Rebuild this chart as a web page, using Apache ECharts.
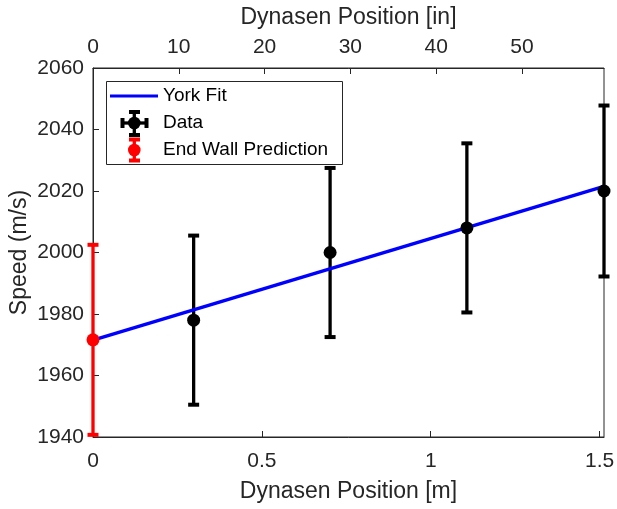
<!DOCTYPE html>
<html>
<head>
<meta charset="utf-8">
<script src="https://cdn.jsdelivr.net/npm/echarts@6/dist/echarts.min.js"></script>
<style>
html,body{margin:0;padding:0;background:#fff;}
#chart{width:617px;height:509px;}
</style>
</head>
<body>
<div id="chart"></div>
<script>
// ---- data ----
const dataX = [0.298, 0.702, 1.107, 1.513];        // Dynasen position [m]
const dataY = [1978.0, 2000.0, 2008.0, 2020.0];    // speed [m/s]
const dataErr = [27.5, 27.5, 27.5, 27.8];          // error bar half-length
const wallX = [0];
const wallY = [1971.6];
const wallErr = [30.9];
const fitX = [0, 1.513];
const fitY = [1971.5, 2021.5];
const yTicks = [1940, 1960, 1980, 2000, 2020, 2040, 2060];
const xMaxM = 1.513;
const M_TO_IN = 1 / 0.0254;

const chart = echarts.init(document.getElementById('chart'), null, {renderer: 'canvas'});
const FONT = 'Liberation Sans, Arial, Helvetica, sans-serif';
const AX = '#262626';

function errData(xs, ys, es) {
  return xs.map((x, i) => [x, ys[i], ys[i] - es[i], ys[i] + es[i]]);
}
function errRender(color) {
  return function (params, api) {
    const x = api.value(0);
    const lo = api.coord([x, api.value(2)]);
    const hi = api.coord([x, api.value(3)]);
    const capW = 11, capH = 4;
    return {
      type: 'group',
      children: [
        {type: 'line', shape: {x1: lo[0], y1: lo[1], x2: hi[0], y2: hi[1]}, style: {stroke: color, lineWidth: 3.3}},
        {type: 'rect', shape: {x: lo[0] - capW / 2, y: lo[1] - capH / 2, width: capW, height: capH}, style: {fill: color}},
        {type: 'rect', shape: {x: hi[0] - capW / 2, y: hi[1] - capH / 2, width: capW, height: capH}, style: {fill: color}}
      ]
    };
  };
}

// legend drawn as graphic
const LX = 106, LY = 81;
const legendGraphic = [
  {type: 'rect', left: LX, top: LY, shape: {width: 236, height: 83}, style: {fill: '#fff', stroke: AX, lineWidth: 1}, z: 100},
  {type: 'line', shape: {x1: 110, y1: 96, x2: 158, y2: 96}, style: {stroke: '#0000ff', lineWidth: 3}, z: 101},
  // Data icon
  {type: 'line', shape: {x1: 122, y1: 123, x2: 146.5, y2: 123}, style: {stroke: '#000', lineWidth: 3.3}, z: 101},
  {type: 'line', shape: {x1: 134.3, y1: 111.5, x2: 134.3, y2: 135}, style: {stroke: '#000', lineWidth: 3.3}, z: 101},
  {type: 'rect', shape: {x: 120.5, y: 118, width: 4, height: 10}, style: {fill: '#000'}, z: 101},
  {type: 'rect', shape: {x: 144.5, y: 118, width: 4, height: 10}, style: {fill: '#000'}, z: 101},
  {type: 'rect', shape: {x: 129, y: 110, width: 11, height: 4}, style: {fill: '#000'}, z: 101},
  {type: 'rect', shape: {x: 129, y: 133, width: 11, height: 4}, style: {fill: '#000'}, z: 101},
  {type: 'circle', shape: {cx: 134.3, cy: 123, r: 6.3}, style: {fill: '#000'}, z: 102},
  // End wall icon
  {type: 'line', shape: {x1: 134.3, y1: 139, x2: 134.3, y2: 160}, style: {stroke: '#ff0000', lineWidth: 3.3}, z: 101},
  {type: 'rect', shape: {x: 129, y: 137.5, width: 11, height: 4}, style: {fill: '#ff0000'}, z: 101},
  {type: 'rect', shape: {x: 129, y: 158.5, width: 11, height: 4}, style: {fill: '#ff0000'}, z: 101},
  {type: 'circle', shape: {cx: 134.3, cy: 150, r: 6.3}, style: {fill: '#ff0000'}, z: 102},
  // texts
  {type: 'text', x: 163, y: 96, style: {text: 'York Fit', font: '19px ' + FONT, fill: '#000', verticalAlign: 'middle'}, z: 101},
  {type: 'text', x: 163, y: 123, style: {text: 'Data', font: '19px ' + FONT, fill: '#000', verticalAlign: 'middle'}, z: 101},
  {type: 'text', x: 163, y: 150, style: {text: 'End Wall Prediction', font: '19px ' + FONT, fill: '#000', verticalAlign: 'middle'}, z: 101}
];

const option = {
  animation: false,
  backgroundColor: '#fff',
  textStyle: {fontFamily: FONT},
  grid: {left: 93, right: 13, top: 68, bottom: 72, show: true, borderColor: AX, borderWidth: 1,
         backgroundColor: 'transparent', containLabel: false, outerBoundsMode: 'none'},
  xAxis: [
    {
      type: 'value', position: 'bottom', min: 0, max: xMaxM, interval: 0.5,
      name: 'Dynasen Position [m]', nameLocation: 'middle', nameGap: 43, nameMoveOverlap: false,
      nameTextStyle: {fontSize: 23, color: AX, fontFamily: FONT},
      axisLine: {show: true, onZero: false, lineStyle: {color: AX, width: 1}},
      axisTick: {show: true, inside: true, length: 6, lineStyle: {color: AX}},
      axisLabel: {fontSize: 21, color: AX, margin: 14, showMaxLabel: false, fontFamily: FONT,
        formatter: v => (Math.abs(v / 0.5 - Math.round(v / 0.5)) < 1e-6 ? String(v) : '')},
      splitLine: {show: false}
    },
    {
      type: 'value', position: 'top', min: 0, max: xMaxM * M_TO_IN, interval: 10,
      name: 'Dynasen Position [in]', nameLocation: 'middle', nameGap: 39, nameMoveOverlap: false,
      nameTextStyle: {fontSize: 23, color: AX, fontFamily: FONT},
      axisLine: {show: true, onZero: false, lineStyle: {color: AX, width: 1}},
      axisTick: {show: true, inside: true, length: 6, lineStyle: {color: AX}},
      axisLabel: {fontSize: 21, color: AX, margin: 10, showMaxLabel: false, fontFamily: FONT,
        formatter: v => (Math.abs(v / 10 - Math.round(v / 10)) < 1e-6 ? String(v) : '')},
      splitLine: {show: false}
    }
  ],
  yAxis: {
    type: 'value', min: yTicks[0], max: yTicks[yTicks.length - 1], interval: 20,
    name: 'Speed (m/s)', nameLocation: 'middle', nameGap: 62, nameRotate: 90, nameMoveOverlap: false,
    nameTextStyle: {fontSize: 23, color: AX, fontFamily: FONT},
    axisLine: {show: true, onZero: false, lineStyle: {color: AX, width: 1}},
    axisTick: {show: true, inside: true, length: 6, lineStyle: {color: AX}},
    axisLabel: {fontSize: 21, color: AX, margin: 9, fontFamily: FONT, formatter: v => String(v)},
    splitLine: {show: false}
  },
  graphic: legendGraphic,
  series: [
    {
      type: 'custom', name: 'Data bars', xAxisIndex: 0, clip: false, z: 2,
      renderItem: errRender('#000'), data: errData(dataX, dataY, dataErr)
    },
    {
      type: 'custom', name: 'Wall bars', xAxisIndex: 0, clip: false, z: 2,
      renderItem: errRender('#ff0000'), data: errData(wallX, wallY, wallErr)
    },
    {
      type: 'line', name: 'York Fit', xAxisIndex: 0, z: 3, clip: false,
      data: fitX.map((x, i) => [x, fitY[i]]), showSymbol: false, symbol: 'none',
      lineStyle: {color: '#0000ff', width: 3.5}
    },
    {
      type: 'scatter', name: 'Data', xAxisIndex: 0, z: 4, clip: false,
      data: dataX.map((x, i) => [x, dataY[i]]), symbol: 'circle', symbolSize: 13,
      itemStyle: {color: '#000', opacity: 1}
    },
    {
      type: 'scatter', name: 'End Wall Prediction', xAxisIndex: 0, z: 4, clip: false,
      data: wallX.map((x, i) => [x, wallY[i]]), symbol: 'circle', symbolSize: 13,
      itemStyle: {color: '#ff0000', opacity: 1}
    }
  ]
};
chart.setOption(option);
</script>
</body>
</html>
